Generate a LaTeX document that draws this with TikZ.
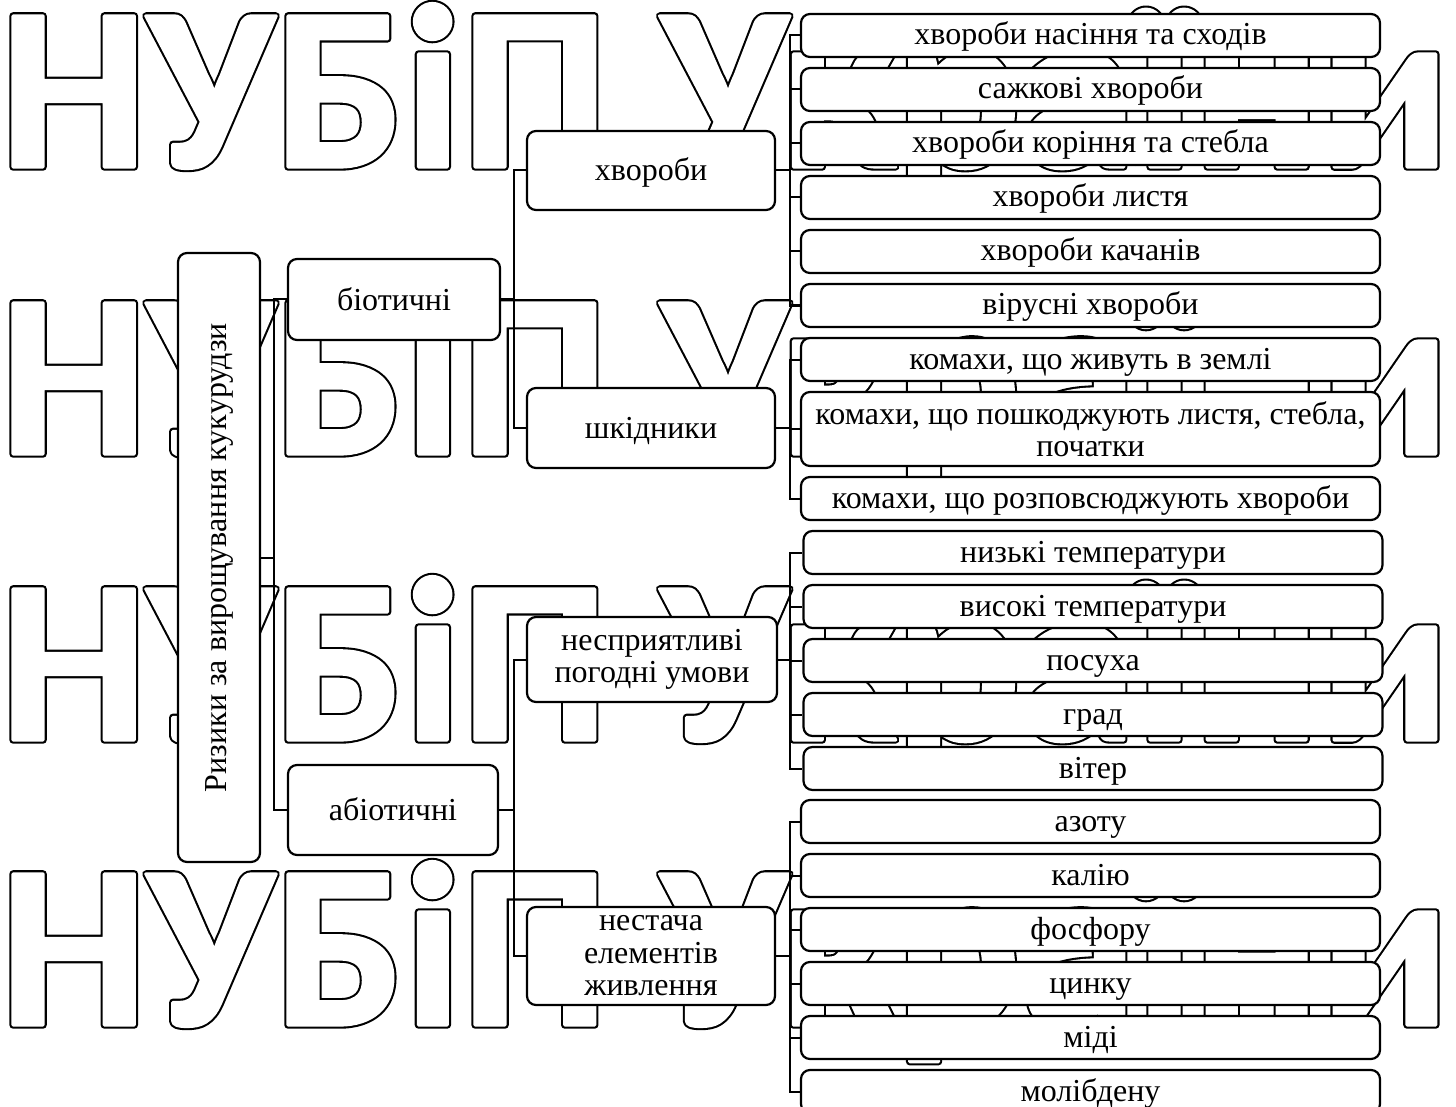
\documentclass[tikz,border=0pt]{standalone}
\usepackage{fontspec}
\setmainfont{Liberation Serif}
\newfontfamily\wmfont{Carlito}
\newcommand\wmblack[1]{\special{pdf:literal direct 2 Tr 7.4 w 1 j}#1\special{pdf:literal direct 0 Tr}}
\newcommand\wmwhite[1]{\special{pdf:literal direct 2 Tr 3.2 w 1 j}#1\special{pdf:literal direct 0 Tr}}
\begin{document}
\begin{tikzpicture}[x=1pt,y=-1pt,
  box/.style={draw, line width=2.2pt, rounded corners=9pt, fill=white, inner sep=0pt, font=\fontsize{32}{32.5}\selectfont},
  one/.style={text height=24pt, text depth=5pt},
  two/.style={align=center},
  leaf/.style={box, one, minimum width=579pt, minimum height=43pt},
  mid/.style={box, minimum width=248pt},
  conn/.style={line width=2pt},
  wm/.style={inner sep=0pt, anchor=base west, font=\wmfont\bfseries\fontsize{233}{233}\selectfont}
]
\useasboundingbox (0,0) rectangle (1456,1107);
% watermark
\foreach \yy/\nm in {167/a,454/b,740/c,1025/d}{
  \node[wm, text=black] (wmk\nm) at (0,\yy) {\wmblack{НУБіП України}};
  \node[wm, text=white] (wmw\nm) at (0,\yy) {\wmwhite{НУБіП України}};
}
% root and level 1
\node[box, minimum width=82pt, minimum height=609pt] (root) at (219,557.5) {};
\node[rotate=90, font=\fontsize{32}{32.5}\selectfont, inner sep=0pt] (roottext) at (root.center) {Ризики за вирощування кукурудзи};
\node[box, text height=24pt, text depth=3pt, minimum width=212pt, minimum height=81pt] (bio) at (394,299.5) {біотичні};
\node[box, text height=24pt, text depth=3pt, minimum width=210pt, minimum height=90pt] (abio) at (393,810) {абіотичні};
% level 2
\node[mid, text height=24pt, text depth=3pt, minimum height=79pt] (dis) at (651,170.5) {хвороби};
\node[mid, text height=24pt, text depth=3pt, minimum height=80pt] (pest) at (651,428) {шкідники};
\node[mid, two, minimum width=250pt, minimum height=85pt] (weather) at (652,659.5) {несприятливі\\погодні умови};
\node[mid, two, minimum height=98pt] (lack) at (651,956) {нестача\\елементів\\живлення};
% leaves
\node[leaf] (d1) at (1090.5,35.5) {хвороби насіння та сходів};
\node[leaf] (d2) at (1090.5,89.5) {сажкові хвороби};
\node[leaf] (d3) at (1090.5,143.5) {хвороби коріння та стебла};
\node[leaf] (d4) at (1090.5,197.5) {хвороби листя};
\node[leaf] (d5) at (1090.5,251.5) {хвороби качанів};
\node[leaf] (d6) at (1090.5,305.5) {вірусні хвороби};
\node[leaf] (p1) at (1090.5,359.5) {комахи, що живуть в землі};
\node[box, two, minimum width=579pt, minimum height=74pt] (p2) at (1090.5,429) {комахи, що пошкоджують листя, стебла,\\початки};
\node[leaf] (p3) at (1090.5,498.5) {комахи, що розповсюджують хвороби};
\node[leaf] (w1) at (1093,552.5) {низькі температури};
\node[leaf] (w2) at (1093,606.5) {високі температури};
\node[leaf] (w3) at (1093,660.5) {посуха};
\node[leaf] (w4) at (1093,714.5) {град};
\node[leaf] (w5) at (1093,768.5) {вітер};
\node[leaf] (n1) at (1090.5,821.5) {азоту};
\node[leaf] (n2) at (1090.5,875.5) {калію};
\node[leaf] (n3) at (1090.5,929.5) {фосфору};
\node[leaf] (n4) at (1090.5,983.5) {цинку};
\node[leaf] (n5) at (1090.5,1037.5) {міді};
\node[leaf] (n6) at (1090.5,1091.5) {молібдену};
% connectors
\foreach \c in {bio,abio}{\draw[conn] (root.east) -- ++(13,0) |- (\c.west);}
\foreach \c in {dis,pest}{\draw[conn] (bio.east) -- ++(13,0) |- (\c.west);}
\foreach \c in {weather,lack}{\draw[conn] (abio.east) -- ++(15,0) |- (\c.west);}
\foreach \c in {d1,d2,d3,d4,d5,d6}{\draw[conn] (dis.east) -- ++(14,0) |- (\c.west);}
\foreach \c in {p1,p2,p3}{\draw[conn] (pest.east) -- ++(14,0) |- (\c.west);}
\foreach \c in {w1,w2,w3,w4,w5}{\draw[conn] (weather.east) -- ++(12,0) |- (\c.west);}
\foreach \c in {n1,n2,n3,n4,n5,n6}{\draw[conn] (lack.east) -- ++(14,0) |- (\c.west);}
\end{tikzpicture}
\end{document}
